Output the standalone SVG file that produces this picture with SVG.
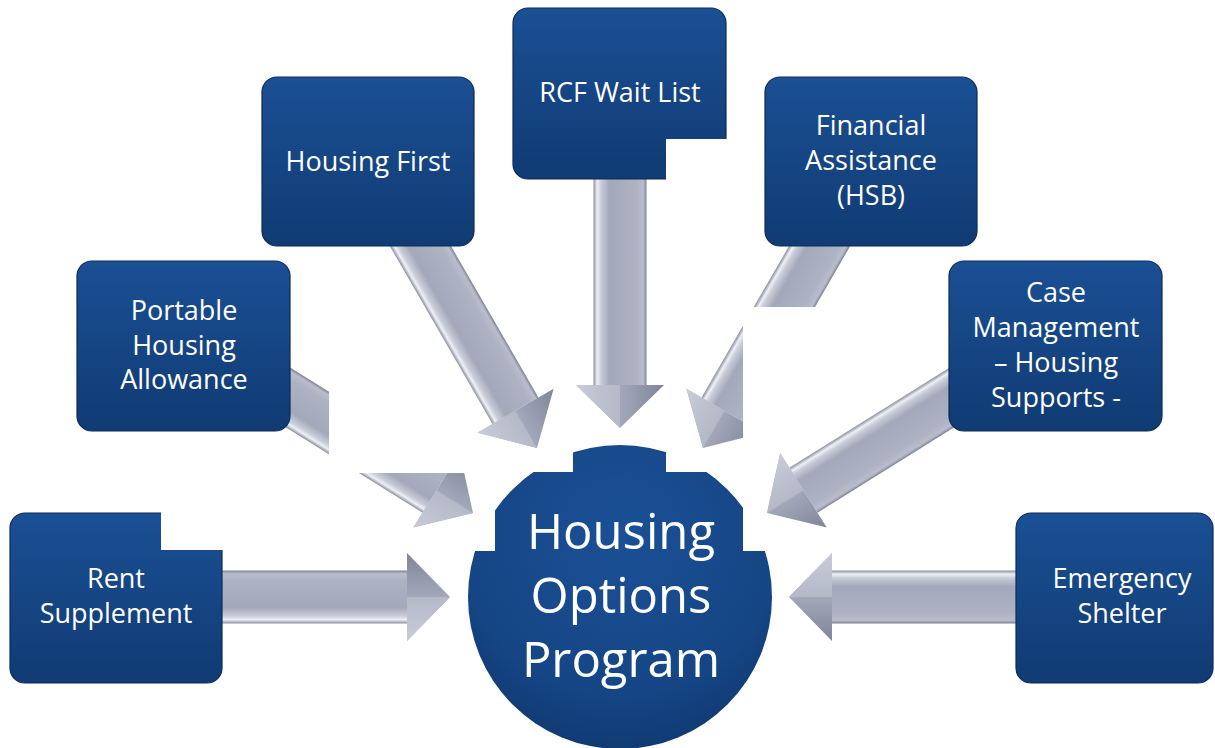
<svg xmlns="http://www.w3.org/2000/svg" width="1215" height="748" viewBox="0 0 1215 748">
<style>
.box{fill:url(#boxGrad);stroke:#0b2c58;stroke-width:1.2}
.t{font-family:"Open Sans","Noto Sans",sans-serif;font-size:27px;fill:#ffffff;text-anchor:middle}
.tc{font-family:"Open Sans","Noto Sans",sans-serif;font-size:49px;fill:#ffffff;text-anchor:middle}
.shaft{fill:url(#shaftGrad)}
.head{fill:url(#headGrad)}
.headHi{fill:url(#headHiGrad)}
</style>
<defs>
<linearGradient id="boxGrad" x1="0" y1="0" x2="0" y2="1">
<stop offset="0" stop-color="#1c5196"/>
<stop offset="0.06" stop-color="#1a4e92"/>
<stop offset="1" stop-color="#103b73"/>
</linearGradient>
<radialGradient id="circGrad" cx="0.5" cy="0.3" r="0.75">
<stop offset="0" stop-color="#1b5096"/>
<stop offset="0.7" stop-color="#154584"/>
<stop offset="0.92" stop-color="#113b74"/>
<stop offset="1" stop-color="#0c2f60"/>
</radialGradient>
<linearGradient id="shaftGrad" gradientUnits="userSpaceOnUse" x1="0" y1="-26.5" x2="0" y2="26.5">
<stop offset="0" stop-color="#7d8294"/>
<stop offset="0.06" stop-color="#b9bdcb"/>
<stop offset="0.18" stop-color="#aeb3c4"/>
<stop offset="0.7" stop-color="#a3a8ba"/>
<stop offset="0.86" stop-color="#c9cdd9"/>
<stop offset="0.93" stop-color="#eef0f5"/>
<stop offset="1" stop-color="#8a8fa0"/>
</linearGradient>
<linearGradient id="headGrad" gradientUnits="userSpaceOnUse" x1="0" y1="-44" x2="0" y2="44">
<stop offset="0" stop-color="#80869a"/>
<stop offset="0.5" stop-color="#a2a7b9"/>
<stop offset="1" stop-color="#b9bdcb"/>
</linearGradient>
<linearGradient id="headHiGrad" gradientUnits="userSpaceOnUse" x1="0" y1="0" x2="0" y2="44">
<stop offset="0" stop-color="#b4b9c8"/>
<stop offset="1" stop-color="#c8ccd8"/>
</linearGradient>
<clipPath id="clipW1"><path clip-rule="evenodd" d="M0 0H1215V748H0Z M329 300V473H475V300Z"/></clipPath>
<clipPath id="clipW2"><path clip-rule="evenodd" d="M0 0H1215V748H0Z M743 307V445H949V307Z"/></clipPath>
<clipPath id="clipCircle"><path d="M573 430H666V472H743V551H800V760H440V551H495V472H573Z"/></clipPath>
<clipPath id="clipRcf"><path d="M500 0H740V139H666V195H500Z"/></clipPath>
<clipPath id="clipRent"><path d="M0 500H161V550H240V700H0Z"/></clipPath>
</defs>

<g id="connectors">
<g id="arrow-portable" clip-path="url(#clipW1)">
<g transform="translate(473,513) rotate(32)">
<path class="shaft" d="M-260,-26.5 L-43,-26.5 L-43,26.5 L-260,26.5 Z"/>
<path class="head" d="M-43,-44 L0,0 L-43,44 Z"/>
<path class="headHi" d="M-43,0 L0,0 L-43,44 Z"/>
</g>
</g>
<g id="arrow-financial" clip-path="url(#clipW2)">
<g transform="translate(703,448) rotate(120)">
<path class="shaft" d="M-255,-26.5 L-43,-26.5 L-43,26.5 L-255,26.5 Z"/>
<path class="head" d="M-43,-44 L0,0 L-43,44 Z"/>
<path class="headHi" d="M-43,0 L0,0 L-43,44 Z"/>
</g>
</g>
<g id="arrow-housingfirst" transform="translate(537,448) rotate(60)">
<path class="shaft" d="M-255,-26.5 L-43,-26.5 L-43,26.5 L-255,26.5 Z"/>
<path class="head" d="M-43,-44 L0,0 L-43,44 Z"/>
<path class="headHi" d="M-43,0 L0,0 L-43,44 Z"/>
</g>
<g id="arrow-rcf" transform="translate(620,428) rotate(90)">
<path class="shaft" d="M-258,-26.5 L-43,-26.5 L-43,26.5 L-258,26.5 Z"/>
<path class="head" d="M-43,-44 L0,0 L-43,44 Z"/>
<path class="headHi" d="M-43,0 L0,0 L-43,44 Z"/>
</g>
<g id="arrow-rent" transform="translate(450,597)">
<path class="shaft" d="M-240,-26.5 L-43,-26.5 L-43,26.5 L-240,26.5 Z"/>
<path class="head" d="M-43,-44 L0,0 L-43,44 Z"/>
<path class="headHi" d="M-43,0 L0,0 L-43,44 Z"/>
</g>
<g id="arrow-emergency" transform="translate(789,597) rotate(180)">
<path class="shaft" d="M-245,-26.5 L-43,-26.5 L-43,26.5 L-245,26.5 Z"/>
<path class="head" d="M-43,-44 L0,0 L-43,44 Z"/>
<path class="headHi" d="M-43,0 L0,0 L-43,44 Z"/>
</g>
<g id="arrow-case" transform="translate(767,513) rotate(148)">
<path class="shaft" d="M-260,-26.5 L-43,-26.5 L-43,26.5 L-260,26.5 Z"/>
<path class="head" d="M-43,-44 L0,0 L-43,44 Z"/>
<path class="headHi" d="M-43,0 L0,0 L-43,44 Z"/>
</g>
</g>

<g id="node-center" clip-path="url(#clipCircle)">
<circle cx="620" cy="597" r="152" fill="url(#circGrad)"/>
<text class="tc" x="621" y="549">Housing</text>
<text class="tc" x="621" y="613">Options</text>
<text class="tc" x="621" y="677">Program</text>
</g>

<g id="node-rent" clip-path="url(#clipRent)">
<rect class="box" x="10" y="513" width="212" height="170" rx="15"/>
<text class="t" x="116" y="588">Rent</text>
<text class="t" x="116" y="623">Supplement</text>
</g>

<g id="node-portable">
<rect class="box" x="77" y="261" width="213" height="170" rx="15"/>
<text class="t" x="184" y="320">Portable</text>
<text class="t" x="184" y="355">Housing</text>
<text class="t" x="184" y="389">Allowance</text>
</g>

<g id="node-housingfirst">
<rect class="box" x="262" y="77" width="212" height="169" rx="15"/>
<text class="t" x="368" y="171">Housing First</text>
</g>

<g id="node-rcf" clip-path="url(#clipRcf)">
<rect class="box" x="513" y="8" width="213" height="171" rx="15"/>
<text class="t" x="620" y="102">RCF Wait List</text>
</g>

<g id="node-financial">
<rect class="box" x="765" y="77" width="212" height="169" rx="15"/>
<text class="t" x="871" y="135">Financial</text>
<text class="t" x="871" y="170">Assistance</text>
<text class="t" x="871" y="205">(HSB)</text>
</g>

<g id="node-case">
<rect class="box" x="949" y="261" width="213" height="170" rx="15"/>
<text class="t" x="1056" y="302">Case</text>
<text class="t" x="1056" y="337">Management</text>
<text class="t" x="1056" y="372">– Housing</text>
<text class="t" x="1056" y="407">Supports -</text>
</g>

<g id="node-emergency">
<rect class="box" x="1016" y="513" width="197" height="170" rx="15"/>
<text class="t" x="1122" y="588">Emergency</text>
<text class="t" x="1122" y="623">Shelter</text>
</g>
</svg>
